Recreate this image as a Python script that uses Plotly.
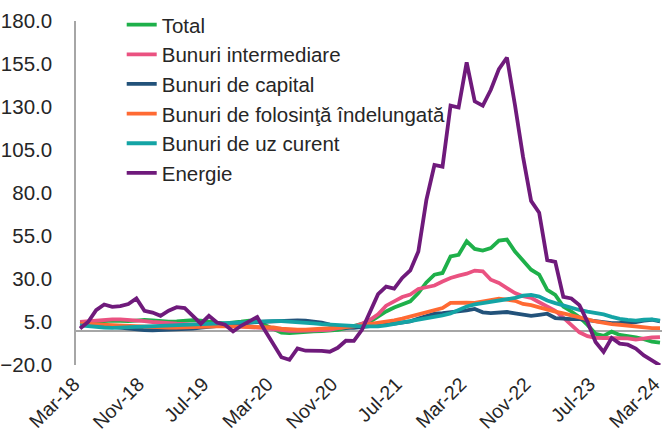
import plotly.graph_objects as go
import pandas as pd

months = [d.strftime("%b-%y") for d in pd.date_range("2018-03-01", "2024-03-01", freq="MS")]
tick_labels = ["Mar-18", "Nov-18", "Jul-19", "Mar-20", "Nov-20", "Jul-21", "Mar-22", "Nov-22", "Jul-23", "Mar-24"]
y_ticks = [-20, 5, 30, 55, 80, 105, 130, 155, 180]

total = [3.8, 4.5, 5.2, 5.5, 5.8, 5.6, 5.5, 5.8, 6.2, 6.0, 5.5, 5.2, 5.4, 5.8, 6.1, 5.8, 5.0, 4.6, 4.2, 4.5,
         5.2, 5.8, 5.5, 3.2, 1.0, -1.2, -1.5, -1.0, -0.8, -0.5, -0.3, 0.0, 0.4, 1.4, 2.9, 4.0, 5.2, 8.2, 11.1, 13.4,
         15.0, 17.0, 21.8, 28.0, 32.5, 33.5, 43.1, 44.1, 51.9, 47.5, 46.5, 48.0, 52.3, 52.9, 46.0, 40.7, 35.4, 32.5, 23.7, 20.8,
         14.0, 11.1, 7.8, 3.3, -1.9, -3.1, -0.6, -2.5, -3.1, -3.9, -5.0, -6.4, -7.0]
intermediare = [5.0, 5.5, 6.0, 6.3, 6.5, 6.5, 6.3, 6.0, 5.5, 5.0, 4.5, 4.2, 4.0, 3.8, 3.5, 3.3, 3.0, 2.8, 2.6, 2.5,
                2.3, 2.2, 2.0, 1.5, 0.8, 0.2, -0.2, -0.2, 0.0, 0.2, 0.3, 0.5, 1.4, 1.8, 2.4, 4.0, 6.3, 9.5, 14.5, 17.0,
                19.5, 21.0, 24.2, 25.2, 26.2, 28.5, 30.6, 32.0, 33.1, 34.9, 34.5, 29.6, 27.7, 24.7, 21.8, 20.0, 19.0, 16.5, 14.0, 11.5,
                7.5, 3.0, -1.0, -3.2, -4.2, -4.3, -4.3, -4.3, -4.5, -5.2, -4.5, -4.0, -3.8]
capital = [4.0, 3.5, 3.0, 2.5, 2.0, 1.5, 1.0, 0.6, 0.3, 0.2, 0.3, 0.5, 0.6, 0.8, 1.2, 1.8, 2.2, 2.5, 2.8, 3.2,
           3.8, 4.5, 5.0, 5.3, 5.5, 5.6, 5.8, 6.0, 5.8, 5.3, 4.6, 3.5, 2.6, 1.6, 1.6, 2.2, 2.8, 3.1, 3.6, 4.0,
           4.8, 5.4, 7.0, 8.5, 9.8, 10.2, 10.6, 11.0, 11.8, 12.6, 10.6, 10.2, 10.5, 10.8, 10.0, 9.2, 8.6, 9.2, 9.8, 7.3,
           6.9, 6.7, 6.7, 6.0, 5.3, 4.8, 4.4, 4.5, 4.7, 5.0, 5.8, 6.3, 5.3]
folosinta = [4.0, 3.8, 3.5, 3.3, 3.0, 2.8, 2.5, 2.2, 2.0, 1.8, 1.8, 1.7, 1.8, 2.0, 2.2, 2.4, 2.5, 2.6, 2.6, 2.5,
             2.4, 2.3, 2.3, 2.2, 1.8, 1.2, 0.8, 0.6, 0.6, 0.8, 1.0, 1.2, 1.5, 2.0, 2.4, 3.0, 3.8, 4.5, 5.2, 5.9,
             7.0, 8.3, 9.5, 10.6, 12.1, 13.1, 16.1, 16.4, 16.3, 16.1, 17.0, 17.9, 18.6, 18.0, 17.3, 15.5, 14.8, 13.5, 12.0, 11.0,
             10.0, 9.0, 7.8, 6.5, 5.3, 4.4, 3.8, 3.4, 2.8, 2.3, 1.6, 1.4, 1.4]
uz_curent = [3.0, 2.5, 2.0, 1.8, 1.6, 1.8, 2.0, 2.3, 2.6, 2.8, 3.0, 3.2, 3.5, 3.7, 4.0, 4.2, 4.3, 4.5, 4.6, 4.7,
             4.9, 5.1, 5.2, 5.3, 5.5, 5.5, 5.3, 5.0, 4.6, 4.2, 3.8, 3.5, 3.3, 2.8, 2.4, 2.4, 2.4, 2.4, 3.0, 3.8,
             4.6, 5.5, 6.3, 7.0, 7.6, 8.8, 10.0, 12.0, 14.0, 15.2, 16.0, 16.6, 17.2, 18.2, 19.0, 20.3, 20.8, 19.8, 17.5, 16.0,
             14.5, 13.2, 12.0, 11.0, 10.4, 9.4, 8.0, 6.8, 6.2, 5.8, 6.3, 6.5, 5.8]
energie = [1.2, 5.0, 11.9, 15.2, 13.8, 14.2, 15.4, 18.7, 11.5, 10.5, 8.6, 11.6, 13.6, 13.1, 8.6, 4.0, 8.6, 4.7, 3.4, -0.5,
           2.8, 5.2, 7.9, -0.3, -8.4, -15.5, -17.0, -10.4, -11.7, -11.7, -11.8, -12.3, -10.0, -5.9, -6.0, 0.5, 10.5, 21.2, 25.6, 24.4,
           30.6, 35.0, 46.0, 76.0, 96.3, 95.3, 130.8, 129.7, 155.9, 133.3, 130.8, 140.0, 152.0, 158.8, 131.0, 101.0, 75.4, 68.6, 41.0, 40.0,
           19.6, 18.7, 14.8, 5.1, -6.6, -12.4, -4.3, -7.6, -8.2, -10.5, -14.4, -17.3, -20.2]

series = [
    ("Total", total, "#1EB04A"),
    ("Bunuri intermediare", intermediare, "#EA5281"),
    ("Bunuri de capital", capital, "#22527A"),
    ("Bunuri de folosinţă îndelungată", folosinta, "#FF6A33"),
    ("Bunuri de uz curent", uz_curent, "#14A4A5"),
    ("Energie", energie, "#6F1A7B"),
]

fig = go.Figure()
for name, vals, color in series:
    fig.add_trace(go.Scatter(x=months, y=vals, mode="lines", name=name, legendgroup=name,
                             line=dict(color=color, width=3.8)))

font = "Liberation Sans, Arial, sans-serif"
fig.update_layout(
    width=662, height=434,
    margin=dict(l=76, r=0, t=21, b=69, autoexpand=False),
    plot_bgcolor="white", paper_bgcolor="white",
    font=dict(family=font, size=20, color="#262626"),
    showlegend=True,
    legend=dict(x=0.078, y=1.047, xanchor="left", yanchor="top", bgcolor="rgba(0,0,0,0)",
                tracegroupgap=0, font=dict(size=20.5)),
    xaxis=dict(type="category", range=[-0.5, 72.25], tickmode="array", tickvals=tick_labels,
               ticktext=tick_labels, tickangle=-45, showgrid=False, showline=False, zeroline=False,
               ticks="", tickfont=dict(size=19.5), ticklabelshift=-6, ticklabelstandoff=3, automargin=False),
    yaxis=dict(range=[-20, 180], tickmode="array", tickvals=y_ticks, tickformat=".1f",
               showgrid=False, showline=True, linecolor="#A6A6A6", linewidth=1.5,
               zeroline=True, zerolinecolor="#A6A6A6", zerolinewidth=1.5, ticks="",
               ticklabelstandoff=18, tickfont=dict(size=20.5), automargin=False),
)
fig.write_html("out.html", config={"displayModeBar": False},
               post_script="document.body.style.margin='0';document.body.style.overflow='hidden';")
